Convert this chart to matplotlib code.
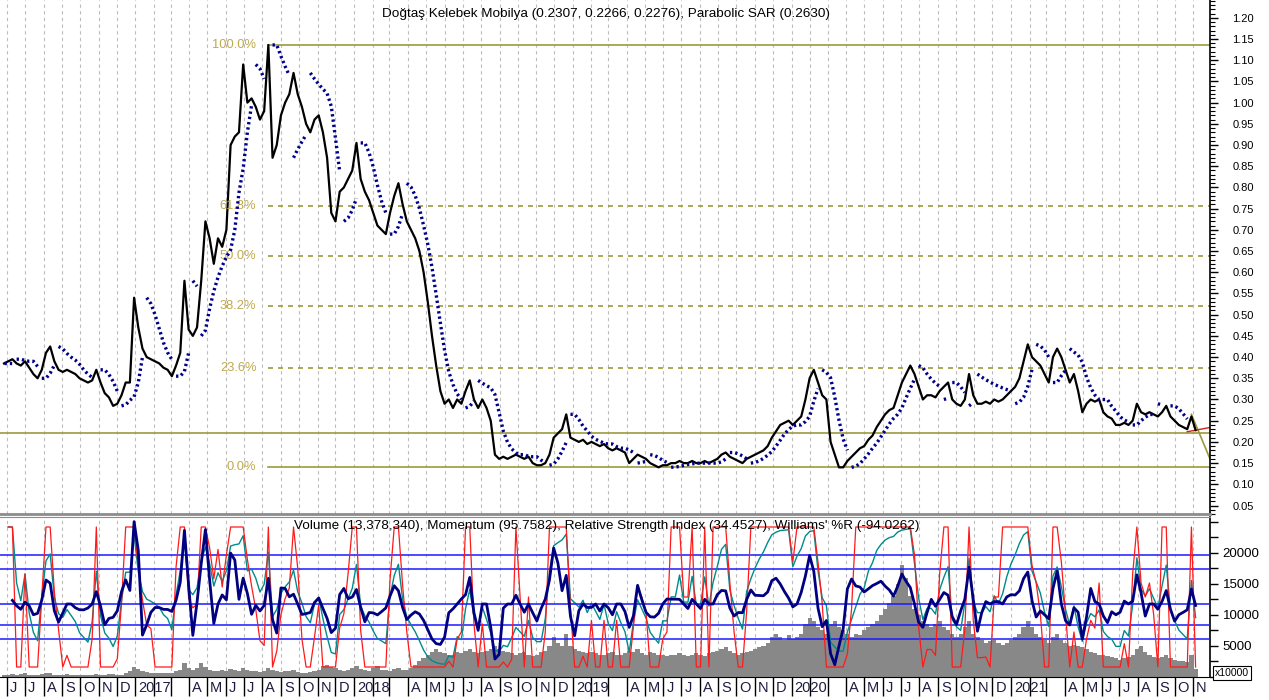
import numpy as np
import pandas as pd
import matplotlib
matplotlib.use('Agg')
import matplotlib.pyplot as plt
import matplotlib.transforms as mtrans
from matplotlib.ticker import MultipleLocator, FormatStrFormatter

plt.rcParams['font.family'] = ['Liberation Sans', 'DejaVu Sans']

# weekly closes (TL), last week ends 2021-11-05
close = [0.385, 0.39, 0.395, 0.385, 0.38, 0.39, 0.375, 0.36, 0.35, 0.37,
         0.41, 0.425, 0.39, 0.37, 0.365, 0.37, 0.365, 0.36, 0.35, 0.345,
         0.34, 0.345, 0.37, 0.34, 0.315, 0.305, 0.285, 0.29, 0.31, 0.34,
         0.34, 0.54, 0.47, 0.42, 0.40, 0.395, 0.39, 0.385, 0.375, 0.37,
         0.355, 0.38, 0.41, 0.58, 0.465, 0.45, 0.47, 0.58, 0.72, 0.68,
         0.62, 0.68, 0.66, 0.70, 0.90, 0.92, 0.93, 1.09, 1.00, 1.01,
         0.99, 0.96, 0.98, 1.136, 0.87, 0.90, 0.97, 1.00, 1.02, 1.07,
         1.02, 0.99, 0.95, 0.93, 0.96, 0.97, 0.93, 0.87, 0.74, 0.72,
         0.79, 0.80, 0.82, 0.84, 0.905, 0.82, 0.79, 0.77, 0.74, 0.71,
         0.70, 0.69, 0.74, 0.78, 0.81, 0.76, 0.72, 0.70, 0.68, 0.65,
         0.60, 0.53, 0.45, 0.38, 0.32, 0.29, 0.30, 0.28, 0.30, 0.29,
         0.32, 0.345, 0.30, 0.28, 0.30, 0.28, 0.25, 0.17, 0.16, 0.165,
         0.16, 0.165, 0.17, 0.165, 0.16, 0.165, 0.15, 0.145, 0.145, 0.15,
         0.17, 0.21, 0.22, 0.23, 0.265, 0.21, 0.205, 0.20, 0.205, 0.195,
         0.20, 0.195, 0.19, 0.195, 0.185, 0.18, 0.185, 0.18, 0.175, 0.15,
         0.16, 0.17, 0.165, 0.16, 0.15, 0.145, 0.14, 0.145, 0.145, 0.15,
         0.15, 0.155, 0.15, 0.15, 0.155, 0.15, 0.15, 0.155, 0.15, 0.155,
         0.16, 0.17, 0.175, 0.165, 0.16, 0.155, 0.15, 0.16, 0.165, 0.17,
         0.175, 0.18, 0.19, 0.21, 0.225, 0.24, 0.245, 0.25, 0.24, 0.25,
         0.26, 0.30, 0.35, 0.37, 0.34, 0.31, 0.30, 0.20, 0.17, 0.14,
         0.14, 0.155, 0.165, 0.175, 0.185, 0.19, 0.205, 0.215, 0.235, 0.25,
         0.265, 0.275, 0.28, 0.31, 0.34, 0.36, 0.38, 0.36, 0.33, 0.30,
         0.31, 0.31, 0.305, 0.32, 0.33, 0.34, 0.30, 0.29, 0.285, 0.30,
         0.36, 0.31, 0.29, 0.29, 0.295, 0.29, 0.30, 0.295, 0.30, 0.31,
         0.32, 0.33, 0.35, 0.39, 0.43, 0.40, 0.39, 0.38, 0.36, 0.34,
         0.40, 0.42, 0.40, 0.37, 0.34, 0.36, 0.32, 0.27, 0.29, 0.30,
         0.295, 0.30, 0.27, 0.26, 0.255, 0.24, 0.24, 0.245, 0.24, 0.25,
         0.29, 0.27, 0.265, 0.27, 0.265, 0.26, 0.27, 0.285, 0.26, 0.25,
         0.24, 0.235, 0.23, 0.26, 0.2276]

# weekly volume in x10000 shares
volume = [400, 350, 500, 300, 450, 600, 350, 400, 300, 500,
          700, 600, 400, 350, 300, 450, 400, 350, 300, 400,
          350, 300, 500, 400, 350, 450, 500, 400, 350, 600,
          900, 1600, 1300, 900, 800, 700, 600, 700, 650, 600,
          700, 900, 1200, 2200, 1500, 1200, 1400, 2300, 1600, 1200,
          1000, 900, 1100, 1000, 1300, 1200, 1000, 1400, 1100, 900,
          900, 800, 1000, 1500, 1200, 900, 800, 900, 1000, 1100,
          800, 700, 700, 800, 900, 1100, 1800, 2000, 1600, 1400,
          1200, 1000, 1100, 1400, 1800, 1300, 1100, 1000, 1500, 1800,
          1200, 1100, 1000, 1300, 1400, 1200, 1100, 1500, 2000, 2500,
          3000, 3500, 4000, 4500, 4000, 3800, 3500, 3600, 4000, 3800,
          4200, 4500, 4000, 3800, 4000, 4200, 4500, 5000, 4500, 4200,
          4000, 3800, 3600, 3800, 4000, 3600, 3400, 3500, 4000, 4200,
          5000, 6500, 5500, 5000, 7000, 5000, 4500, 4200, 4000, 3800,
          4000, 3800, 3600, 3500, 3800, 4000, 3600, 3500, 3800, 4200,
          4000, 4500, 3800, 3600, 4000, 3800, 3600, 3500, 3400, 3600,
          3500, 3800, 3600, 3400, 3500, 3800, 3600, 3400, 3800, 4000,
          4200, 4500, 4800, 4200, 3800, 3600, 3800, 4000, 4200, 4500,
          4800, 5000, 5500, 6500, 7000, 6500, 6000, 6800, 6200, 6500,
          7000, 8500, 9500, 9000, 8000, 7500, 7000, 8500, 9000, 8000,
          7500, 7000, 6500, 7000, 6800, 7500, 8000, 8500, 9000, 10000,
          11000, 12000, 13000, 15000, 18000, 16000, 13000, 11000, 10000, 9000,
          8500, 8000, 8500, 9000, 8000, 7500, 7000, 6500, 7000, 8000,
          9000, 7000, 6500, 6000, 5500, 5800, 6000, 5500, 5200, 5500,
          6000, 6500, 7000, 8000, 9000, 8000, 7000, 6500, 6000, 5500,
          6500, 7000, 6000, 5500, 5000, 5200, 5000, 4800, 4500, 4000,
          3800, 3600, 3500, 3400, 3200, 3000, 2800, 3000, 3200, 3500,
          4500, 5000, 4000, 3500, 3200, 3000, 3200, 3500, 3000, 2800,
          2600, 2500, 2400, 3500, 1338]

support_level = 0.221
trend_dates = ['2021-10-29', '2021-11-29']
trend_vals = [0.265, 0.160]
red_dates = ['2021-10-22', '2021-11-29']
red_vals = [0.224, 0.234]
fib_ratios = [1.0, 0.618, 0.5, 0.382, 0.236, 0.0]
fib_names = ['100.0%', '61.8%', '50.0%', '38.2%', '23.6%', '0.0%']

title_top = 'Doğtaş Kelebek Mobilya (0.2307, 0.2266, 0.2276), Parabolic SAR (0.2630)'
title_bot = ("Volume (13,378,340), Momentum (95.7582), Relative Strength Index (34.4527), "
             "Williams' %R (-94.0262)")

dates = pd.date_range(end='2021-11-05', periods=len(close), freq='W-FRI')
px = pd.Series(close, index=dates)


def parabolic_sar(p, step, top):
    p = np.asarray(p, float)
    out = np.empty_like(p)
    up_flags = np.zeros(len(p), bool)
    up = p[1] >= p[0]
    s = p[0]
    ep = p[0]
    af = step
    out[0] = s
    up_flags[0] = up
    for i in range(1, len(p)):
        s = s + af * (ep - s)
        j = max(i - 2, 0)
        if up:
            s = min(s, p[i - 1], p[j])
            if p[i] < s:
                up = False; s = ep; ep = p[i]; af = step
            elif p[i] > ep:
                ep = p[i]; af = min(af + step, top)
        else:
            s = max(s, p[i - 1], p[j])
            if p[i] > s:
                up = True; s = ep; ep = p[i]; af = step
            elif p[i] < ep:
                ep = p[i]; af = min(af + step, top)
        out[i] = s
        up_flags[i] = up
    return out, up_flags


sar, sar_up = parabolic_sar(close, 0.1, 0.4)

delta = px.diff()
gain = delta.clip(lower=0).ewm(alpha=1 / 4, adjust=False).mean()
loss = (-delta.clip(upper=0)).ewm(alpha=1 / 4, adjust=False).mean()
rsi = 100 - 100 / (1 + gain / loss)
hh = px.rolling(6, min_periods=1).max()
ll = px.rolling(6, min_periods=1).min()
will = (hh - px) / (hh - ll).replace(0, np.nan) * -100
will = will.ffill()
mom = px / px.shift(2) * 100

fig = plt.figure(figsize=(12.69, 7.0), dpi=100)
ax = fig.add_axes([0, 186 / 700, 1210 / 1269, 514 / 700])
axv = fig.add_axes([0, 23 / 700, 1210 / 1269, 160 / 700])

x0 = pd.Timestamp('2016-05-20 07:00')
x1 = pd.Timestamp('2021-11-29')
months = pd.date_range('2016-06-01', '2021-11-01', freq='MS')

for a in (ax, axv):
    a.set_xlim(x0, x1)
    for m in months:
        a.axvline(m, color='#bcbcbc', ls=(0, (3, 3)), lw=0.8, zorder=0)

# --- price panel
ax.set_ylim(0.030, 1.242)
ax.plot(dates, close, color='black', lw=1.6, zorder=3)
flips = np.where(np.diff(sar_up.astype(int)) != 0)[0] + 1
for seg in np.split(np.arange(len(sar)), flips):
    ax.plot(dates[seg], sar[seg], color='#00008b', lw=2.4,
            ls=(0, (0.7, 0.9)), zorder=4)

hi = max(close)
lo = min(close)
peak_date = dates[int(np.argmax(close))]
for r, name in zip(fib_ratios, fib_names):
    lvl = lo + r * (hi - lo)
    solid = r in (0.0, 1.0)
    ax.plot([peak_date, x1], [lvl, lvl], color='#9c9a3c', lw=1.2,
            ls='-' if solid else (0, (3, 3)), zorder=2)
    ax.text(peak_date, lvl, name, color='#bfa94a', fontsize=9.3, ha='right', va='center',
            transform=mtrans.offset_copy(ax.transData, fig=fig, x=-12, y=0, units='dots'))
ax.axhline(support_level, color='#9c9a3c', lw=1.2, zorder=2)
ax.plot(pd.to_datetime(trend_dates), trend_vals, color='#9c9a3c', lw=1.2, zorder=2)
ax.plot(pd.to_datetime(red_dates), red_vals, color='#cc2222', lw=1.0, zorder=2)

ax.yaxis.tick_right()
ax.yaxis.set_major_locator(MultipleLocator(0.05))
ax.yaxis.set_minor_locator(MultipleLocator(0.01))
ax.yaxis.set_major_formatter(FormatStrFormatter('%.2f'))
ax.tick_params(axis='y', which='major', length=6, width=1, pad=10, labelsize=8)
ax.tick_params(axis='y', which='minor', length=3.5, width=0.8)
ax.tick_params(axis='x', bottom=False, labelbottom=False)
for sp in ('left', 'top'):
    ax.spines[sp].set_visible(False)
ax.spines['right'].set_linewidth(1.2)
ax.spines['bottom'].set_color('#8c8c8c')
ax.spines['bottom'].set_linewidth(2)
fig.text(606 / 1269, 1 - 14 / 700, title_top, ha='center', va='center', fontsize=9.7)

# --- volume / oscillators panel
axv.bar(dates, volume, width=7, color='#888888', linewidth=0, zorder=1)
axv.set_ylim(0, 25800)

axo = axv.twinx()
axo.set_ylim(-7.14, 107.14)
for lvl in (80, 70, 30, 20):
    axo.axhline(lvl, color='#1a1aff', lw=1.1, zorder=1)
axo.plot(dates, rsi, color='#008b8b', lw=1.0, zorder=2)
axo.plot(dates, 100 + will, color='#ff1a1a', lw=0.9, zorder=3)
axo.axis('off')

axm = axv.twinx()
axm.set_ylim(47.86, 162.14)
axm.axhline(100, color='#1a1aff', lw=1.1)
axm.plot(dates, mom, color='#000080', lw=2.0)
axm.axis('off')

# twinx moves the host ticks to the left, so set them up afterwards
axv.yaxis.tick_right()
axv.set_yticks([5000, 10000, 15000, 20000])
axv.yaxis.set_minor_locator(MultipleLocator(2500))
axv.tick_params(axis='y', which='major', length=6, width=1, pad=3, labelsize=9.5)
axv.tick_params(axis='y', which='minor', length=6, width=1)
axv.spines['left'].set_visible(False)
axv.spines['top'].set_color('#8c8c8c')
axv.spines['right'].set_linewidth(1.2)

axv.set_xticks(months)
axv.tick_params(axis='x', which='major', length=14, width=1, direction='out',
                labelbottom=False)
lab_tr = mtrans.offset_copy(axv.get_xaxis_transform(), fig=fig, x=3, y=-11, units='dots')
letters = 'JFMAMJJASOND'
for m in months:
    if m.month == 1:
        lab = str(m.year)
    elif m.month in (2, 3):
        lab = ''
    else:
        lab = letters[m.month - 1]
    axv.text(m, 0, lab, transform=lab_tr, ha='left', va='center',
             fontsize=10.5, color='#1c1c40')

fig.text(607 / 1269, 1 - 526 / 700, title_bot, ha='center', va='center', fontsize=9.7)
fig.text(1215 / 1269, 1 - 673 / 700, 'x10000', ha='left', va='center', fontsize=7.5,
         bbox=dict(boxstyle='square,pad=0.15', fc='white', ec='black', lw=0.8))

fig.savefig('out.png', dpi=100)
